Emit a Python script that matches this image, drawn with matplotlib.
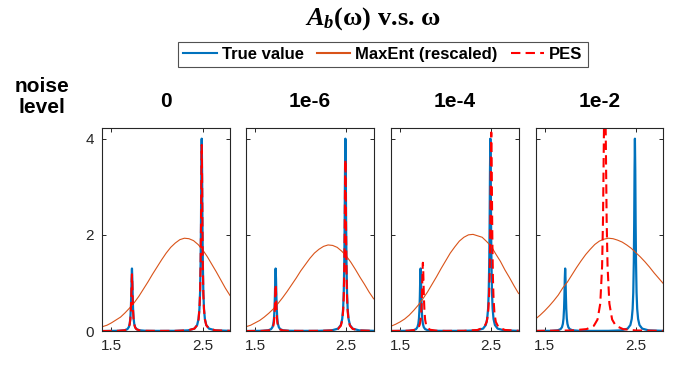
import matplotlib
matplotlib.use('Agg')
from matplotlib import pyplot as plt

plt.rcParams['font.family'] = ['Liberation Sans', 'DejaVu Sans']
plt.rcParams['mathtext.fontset'] = 'custom'
plt.rcParams['mathtext.rm'] = 'Liberation Serif:bold'
plt.rcParams['mathtext.it'] = 'Liberation Serif:italic:bold'

# --- данные ---
noise_levels = ['0', '1e-6', '1e-4', '1e-2']

# истинный спектр (одинаковый для всех панелей)
omega_true = [1.40, 1.575, 1.645, 1.675, 1.69, 1.70, 1.707, 1.713, 1.717, 1.721,
              1.725, 1.729, 1.733, 1.737, 1.743, 1.75, 1.76, 1.775, 1.805, 1.875,
              2.00, 2.20, 2.34, 2.41, 2.44, 2.455, 2.465, 2.472, 2.478, 2.482,
              2.486, 2.49, 2.494, 2.498, 2.502, 2.508, 2.515, 2.525, 2.54, 2.57,
              2.64, 2.80]
a_true = [0.0, 0.005, 0.016, 0.04, 0.08, 0.15, 0.26, 0.47, 0.73, 1.09,
          1.30, 1.09, 0.73, 0.47, 0.26, 0.15, 0.08, 0.04, 0.016, 0.005,
          0.003, 0.004, 0.014, 0.05, 0.125, 0.25, 0.46, 0.80, 1.44, 2.23,
          3.34, 4.00, 3.34, 2.23, 1.44, 0.80, 0.46, 0.25, 0.125, 0.05,
          0.014, 0.004]

# MaxEnt (rescaled)
omega_me = [1.40, 1.45, 1.50, 1.55, 1.60, 1.65, 1.70, 1.75, 1.80, 1.85,
            1.90, 1.95, 2.00, 2.05, 2.10, 2.15, 2.20, 2.25, 2.30, 2.35,
            2.40, 2.45, 2.50, 2.55, 2.60, 2.65, 2.70, 2.75, 2.80]
a_me_0 = [0.09, 0.12, 0.17, 0.23, 0.29, 0.38, 0.48, 0.59, 0.72, 0.87,
          1.02, 1.18, 1.33, 1.48, 1.62, 1.74, 1.83, 1.90, 1.93, 1.92,
          1.88, 1.80, 1.69, 1.55, 1.39, 1.23, 1.06, 0.89, 0.74]
a_me_6 = [0.09, 0.12, 0.17, 0.22, 0.29, 0.37, 0.46, 0.57, 0.69, 0.82,
          0.96, 1.10, 1.25, 1.38, 1.51, 1.62, 1.70, 1.76, 1.79, 1.78,
          1.74, 1.66, 1.56, 1.43, 1.28, 1.12, 0.97, 0.81, 0.67]
a_me_4 = [0.10, 0.14, 0.19, 0.25, 0.33, 0.43, 0.54, 0.67, 0.81, 0.97,
          1.13, 1.30, 1.46, 1.62, 1.75, 1.87, 1.95, 2.00, 2.01, 1.98,
          1.95, 1.86, 1.76, 1.60, 1.45, 1.27, 1.11, 0.94, 0.78]
a_me_2 = [0.25, 0.33, 0.42, 0.52, 0.63, 0.75, 0.90, 1.02, 1.17, 1.32,
          1.46, 1.59, 1.70, 1.80, 1.87, 1.91, 1.93, 1.92, 1.89, 1.85,
          1.79, 1.72, 1.63, 1.54, 1.44, 1.33, 1.21, 1.10, 0.99]

# PES
omega_pes_0 = omega_true
a_pes_0 = [0.0, 0.005, 0.015, 0.036, 0.073, 0.14, 0.24, 0.43, 0.66, 0.99,
           1.18, 0.99, 0.66, 0.43, 0.24, 0.14, 0.073, 0.036, 0.015, 0.005,
           0.003, 0.004, 0.014, 0.05, 0.12, 0.24, 0.45, 0.77, 1.39, 2.16,
           3.23, 3.87, 3.23, 2.16, 1.39, 0.77, 0.45, 0.24, 0.12, 0.05,
           0.014, 0.004]
omega_pes_6 = omega_true
a_pes_6 = [0.0, 0.004, 0.012, 0.03, 0.06, 0.11, 0.19, 0.35, 0.54, 0.81,
           0.97, 0.81, 0.54, 0.35, 0.19, 0.11, 0.06, 0.03, 0.012, 0.004,
           0.003, 0.004, 0.012, 0.045, 0.11, 0.22, 0.41, 0.71, 1.29, 1.99,
           2.98, 3.57, 2.98, 1.99, 1.29, 0.71, 0.41, 0.22, 0.11, 0.045,
           0.012, 0.004]
omega_pes_4 = [1.40, 1.60, 1.67, 1.70, 1.715, 1.725, 1.732, 1.738, 1.742, 1.746,
               1.75, 1.754, 1.758, 1.762, 1.768, 1.775, 1.785, 1.80, 1.83, 1.90,
               2.00, 2.20, 2.35, 2.42, 2.45, 2.465, 2.475, 2.482, 2.488, 2.492,
               2.496, 2.50, 2.504, 2.508, 2.512, 2.518, 2.525, 2.535, 2.55, 2.58,
               2.65, 2.80]
a_pes_4 = [0.002, 0.007, 0.026, 0.065, 0.13, 0.23, 0.39, 0.65, 0.93, 1.25,
           1.42, 1.25, 0.93, 0.65, 0.39, 0.23, 0.13, 0.065, 0.026, 0.007,
           0.003, 0.005, 0.022, 0.077, 0.19, 0.37, 0.67, 1.12, 1.89, 2.70,
           3.65, 4.13, 3.65, 2.70, 1.89, 1.12, 0.67, 0.37, 0.19, 0.077,
           0.022, 0.005]
omega_pes_2 = [1.40, 1.80, 1.96, 2.04, 2.08, 2.11, 2.13, 2.14, 2.15, 2.155,
               2.16, 2.165, 2.17, 2.18, 2.19, 2.21, 2.24, 2.28, 2.36, 2.50, 2.80]
a_pes_2 = [0.003, 0.012, 0.04, 0.11, 0.24, 0.57, 1.34, 2.31, 4.09, 5.06,
           5.5, 5.06, 4.09, 2.31, 1.34, 0.57, 0.24, 0.11, 0.04, 0.012, 0.003]

me_list = [a_me_0, a_me_6, a_me_4, a_me_2]
pes_list = [(omega_pes_0, a_pes_0), (omega_pes_6, a_pes_6),
            (omega_pes_4, a_pes_4), (omega_pes_2, a_pes_2)]

c_true = '#0072BD'
c_me = '#D95319'
c_pes = '#FF0000'
c_ax = '#262626'

fig = plt.figure(figsize=(6.79, 3.67), dpi=100)

lefts = [0.1507, 0.3623, 0.5758, 0.7887]
w = 0.188
bottom = 0.098
h = 0.553

handles = None
for i in range(4):
    ax = fig.add_axes([lefts[i], bottom, w, h])
    l1, = ax.plot(omega_true, a_true, color=c_true, lw=1.6, label='True value')
    l2, = ax.plot(omega_me, me_list[i], color=c_me, lw=0.8, label='MaxEnt (rescaled)')
    l3, = ax.plot(pes_list[i][0], pes_list[i][1], color=c_pes, lw=1.5,
                  linestyle=(0, (4.5, 2.5)), label='PES')
    if handles is None:
        handles = [l1, l2, l3]

    ax.set_xlim(1.4, 2.8)
    ax.set_ylim(0, 4.22)
    ax.set_xticks([1.5, 2.5])
    ax.set_xticklabels(['1.5', '2.5'])
    ax.set_yticks([0, 2, 4])
    if i == 0:
        ax.set_yticklabels(['0', '2', '4'])
    else:
        ax.set_yticklabels([])
    ax.tick_params(direction='in', top=True, right=True, length=3, width=0.7,
                   colors=c_ax, labelsize=11, pad=6)
    for s in ax.spines.values():
        s.set_color(c_ax)
        s.set_linewidth(0.8)
    ax.set_title(noise_levels[i], fontsize=15, fontweight='bold', pad=15)

fig.text(0.062, 0.736, 'noise\nlevel', ha='center', va='center',
         fontsize=15, fontweight='bold', linespacing=1.1)

fig.text(0.549, 0.932, r'$A_b$(ω) v.s. ω', ha='center', va='baseline',
         fontsize=19, fontweight='bold', family='Liberation Serif')

leg = fig.legend(handles=handles, loc='center', bbox_to_anchor=(0.564, 0.851),
                 ncol=3, frameon=True, fancybox=False, edgecolor=c_ax,
                 prop={'size': 12, 'weight': 'bold'}, handlelength=2.0,
                 handletextpad=0.3, columnspacing=0.8, borderpad=0.3,
                 borderaxespad=0)
leg.get_frame().set_linewidth(0.8)
# в легенде линии одной толщины
for ln in leg.get_lines():
    ln.set_linewidth(1.5)

fig.savefig('out.png', dpi=100)
